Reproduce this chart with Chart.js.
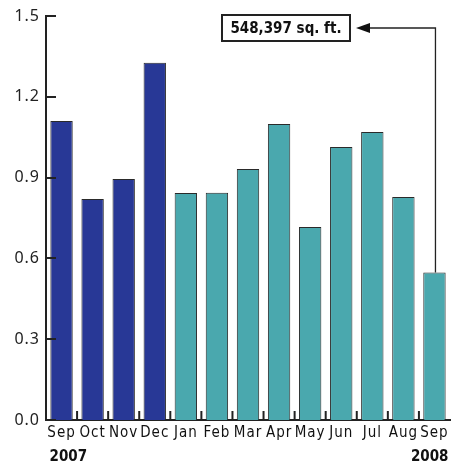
<!DOCTYPE html>
<html><head><meta charset="utf-8">
<script src="https://cdn.jsdelivr.net/npm/chart.js@4"></script>
<style>html,body{margin:0;padding:0;background:#fff;}#wrap{width:453px;height:463px;}</style>
</head><body><div id="wrap"><canvas id="c" width="453" height="463"></canvas></div>
<script>
const months = ["Sep","Oct","Nov","Dec","Jan","Feb","Mar","Apr","May","Jun","Jul","Aug","Sep"];
const values = [1.110,0.821,0.895,1.326,0.843,0.844,0.932,1.099,0.717,1.014,1.069,0.828,0.548];
const yearLabels = ["2007","2008"];
const yTicks = [0,0.3,0.6,0.9,1.2,1.5];
const annotationText = "548,397 sq. ft.";
const darkBlue = "#283896";
const teal = "#4aa8ae";
const barColors = months.map((m,i)=> i<4 ? darkBlue : teal);

const condensed = '"Liberation Sans Narrow","DejaVu Sans Condensed",sans-serif';

const spacing = {
  id:'spacing',
  beforeDraw(chart){ chart.ctx.letterSpacing = '1px'; },
  beforeDatasetsDraw(chart){ chart.ctx.letterSpacing = '0px'; }
};

const extras = {
  id:'extras',
  afterDraw(chart){
    const ctx = chart.ctx, x = chart.scales.x, y = chart.scales.y, a = chart.chartArea;
    ctx.save();
    ctx.strokeStyle = '#222'; ctx.lineWidth = 2;
    yTicks.forEach(v=>{
      const py = Math.round(y.getPixelForValue(v));
      ctx.beginPath(); ctx.moveTo(a.left, py); ctx.lineTo(a.left+10, py); ctx.stroke();
    });
    for(let i=0;i<months.length-1;i++){
      const px = (x.getPixelForValue(i)+x.getPixelForValue(i+1))/2;
      ctx.beginPath(); ctx.moveTo(px, a.bottom); ctx.lineTo(px, a.bottom-9); ctx.stroke();
    }
    ctx.fillStyle = '#111';
    ctx.font = 'bold 15px ' + condensed;
    ctx.textBaseline = 'alphabetic';
    ctx.textAlign = 'left';
    ctx.fillText(yearLabels[0], x.getPixelForValue(0)-12, 461);
    ctx.textAlign = 'right';
    ctx.fillText(yearLabels[1], x.getPixelForValue(months.length-1)+14, 461);
    const last = months.length-1;
    const bx = x.getPixelForValue(last)+1, by = y.getPixelForValue(values[last]);
    const boxL = 222, boxT = 15, boxW = 128, boxH = 26;
    const ay = boxT + boxH/2;
    ctx.lineWidth = 2; ctx.strokeStyle = '#222';
    ctx.strokeRect(boxL, boxT, boxW, boxH);
    ctx.font = 'bold 15px ' + condensed;
    ctx.textAlign = 'center'; ctx.textBaseline = 'middle';
    ctx.fillText(annotationText, boxL+boxW/2, ay+1);
    ctx.lineWidth = 1.3;
    ctx.beginPath();
    ctx.moveTo(bx, by); ctx.lineTo(bx, ay); ctx.lineTo(boxL+boxW+18, ay); ctx.stroke();
    ctx.beginPath();
    ctx.moveTo(boxL+boxW+6, ay); ctx.lineTo(boxL+boxW+20, ay-5); ctx.lineTo(boxL+boxW+20, ay+5); ctx.closePath(); ctx.fill();
    ctx.restore();
  }
};

new Chart(document.getElementById('c'), {
  type:'bar',
  data:{labels:months, datasets:[{data:values, backgroundColor:barColors, borderColor:'#2a2a2a', borderWidth:1, barPercentage:0.72, categoryPercentage:1}]},
  options:{
    responsive:false, animation:false,
    layout:{padding:{top:16,right:3,left:0,bottom:0}},
    plugins:{legend:{display:false}, tooltip:{enabled:false}},
    scales:{
      x:{
        grid:{display:false, drawTicks:false},
        border:{display:true, color:'#222', width:2},
        ticks:{color:'#111', font:{family:condensed, size:15}, padding:4, maxRotation:0, autoSkip:false},
        afterFit(s){ s.height = 43; }
      },
      y:{
        min:0, max:1.5,
        afterBuildTicks(s){ s.ticks = yTicks.map(v=>({value:v})); },
        grid:{display:false, drawTicks:false},
        border:{display:true, color:'#222', width:2},
        ticks:{color:'#222', font:{family:'"Noto Sans",sans-serif', size:16}, padding:6, callback:v=>v.toFixed(1)},
        afterFit(s){ s.width = 46; }
      }
    }
  },
  plugins:[spacing, extras]
});
</script></body></html>
